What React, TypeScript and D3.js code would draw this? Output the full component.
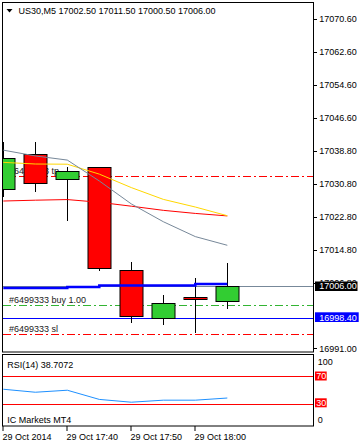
import React from "react";
import * as d3 from "d3";

// ---- data ----
const times = ["17:30", "17:35", "17:40", "17:45", "17:50", "17:55", "18:00", "18:05"];
const openP = [17029.4, 17038.0, 17031.85, 17034.75, 17009.85, 16998.25, 17003.3, 17002.5];
const highP = [17040.9, 17040.9, 17034.75, 17034.75, 17011.85, 17003.9, 17008.0, 17011.5];
const lowP = [17027.65, 17028.85, 17021.85, 17009.75, 16997.2, 16996.7, 16994.75, 17000.5];
const closeP = [17036.95, 17030.9, 17033.85, 17010.35, 16998.75, 17001.9, 17002.85, 17006.0];

const maFast = [17038.9, 17037.5, 17036.5, 17031.45, 17025.9, 17021.6, 17018.0, 17015.9];
const maMid = [17035.95, 17035.55, 17035.5, 17033.1, 17029.85, 17027.0, 17025.15, 17023.05];
const maSlow = [17026.6, 17026.8, 17026.95, 17026.3, 17025.35, 17024.35, 17023.6, 17023.0];
const blueLevel = [17005.58, 17005.58, 17005.82, 17006.18, 17006.18, 17006.18, 17006.54, 17006.54];

const rsi = [51.3, 47.0, 49.9, 36.7, 32.7, 35.6, 35.6, 38.7072];

const priceTicks = [17070.6, 17062.6, 17054.6, 17046.6, 17038.8, 17030.8, 17022.8, 17014.8, 17006.8, 16991.0];
const timeTickIdx = [0, 2, 4, 6];
const timeTickLabels = ["29 Oct 2014", "29 Oct 17:40", "29 Oct 17:50", "29 Oct 18:00"];

const tpPrice = 17032.6;
const openPrice = 17001.4;
const slPrice = 16994.4;
const bidPrice = 17006.0;
const askPrice = 16998.4;

const title = "US30,M5  17002.50 17011.50 17000.50 17006.00";
const rsiTitle = "RSI(14) 38.7072";
const broker = "IC Markets MT4";

const FONT = "'Liberation Sans', Arial, sans-serif";

export default function App() {
  const W = 361, H = 444;
  const x = d3.scaleLinear().domain([0, 7]).range([3.3, 227.3]);
  const y = d3.scaleLinear().domain([16991.0, 17070.6]).range([348.3, 19]);
  const r = d3.scaleLinear().domain([0, 100]).range([425.0, 355.3]);
  const cx = (i: number) => Math.round(x(i)) + 0.5;

  const line = (vals: number[]) =>
    d3.line<number>().x((_, i) => x(i)).y((v) => y(v))(vals) || "";
  const stepLine =
    d3.line<number>().x((_, i) => x(i)).y((v) => y(v)).curve(d3.curveStepAfter)(blueLevel) || "";
  const rsiPath = d3.line<number>().x((_, i) => x(i)).y((v) => r(v))(rsi) || "";

  const dash = "8,3,2,3";
  const hy = (p: number) => Math.round(y(p)) + 0.5;

  return (
    <svg width={W} height={H} style={{ position: "absolute", left: 0, top: 0, background: "#fff" }}
      fontFamily={FONT} fontSize={9}>
      <defs>
        <clipPath id="main">
          <rect x={3} y={3} width={310} height={349} />
        </clipPath>
        <clipPath id="rsiClip">
          <rect x={3} y={355} width={310} height={71} />
        </clipPath>
      </defs>
      <rect x={0} y={0} width={W} height={H} fill="#fff" />

      <g clipPath="url(#main)">
        {/* order lines */}
        <line x1={3} x2={313} y1={hy(tpPrice)} y2={hy(tpPrice)} stroke="#ff0000" strokeDasharray={dash} />
        <line x1={3} x2={313} y1={hy(openPrice)} y2={hy(openPrice)} stroke="#32b432" strokeDasharray={dash} />
        <line x1={3} x2={313} y1={hy(slPrice)} y2={hy(slPrice)} stroke="#ff0000" strokeDasharray={dash} />
        <line x1={3} x2={313} y1={hy(askPrice)} y2={hy(askPrice)} stroke="#0000ff" />
        <line x1={3} x2={313} y1={hy(bidPrice)} y2={hy(bidPrice)} stroke="#778899" />
        <text x={9} y={y(tpPrice) - 2} fill="#222">#6499333 tp</text>
        <text x={9} y={y(openPrice) - 2} fill="#222">#6499333 buy 1.00</text>
        <text x={9} y={y(slPrice) - 2} fill="#222">#6499333 sl</text>

        {/* candles */}
        {openP.map((o, i) => {
          const c = closeP[i];
          const bull = c >= o;
          const top = Math.round(y(Math.max(o, c))) + 0.5;
          const bot = Math.round(y(Math.min(o, c))) + 0.5;
          return (
            <g key={times[i]}>
              <line x1={cx(i)} x2={cx(i)} y1={Math.round(y(highP[i]))} y2={Math.round(y(lowP[i]))} stroke="#000" />
              <rect x={cx(i) - 11.5} y={top} width={23} height={Math.max(1, bot - top)}
                fill={bull ? "#32cd32" : "#ff0000"} stroke="#000" />
            </g>
          );
        })}

        {/* indicators */}
        <path d={line(maSlow)} fill="none" stroke="#ff0000" strokeWidth={1} />
        <path d={line(maMid)} fill="none" stroke="#ffd700" strokeWidth={1} />
        <path d={line(maFast)} fill="none" stroke="#778899" strokeWidth={1} />
        <path d={stepLine} fill="none" stroke="#0000ff" strokeWidth={2.5} />
      </g>

      {/* main frame */}
      <rect x={2.5} y={2.5} width={311} height={349.5} fill="none" stroke="#000" />

      {/* title */}
      <path d="M6.5,9 L12.5,9 L9.5,12.5 Z" fill="#000" />
      <text x={18.5} y={14} fill="#000">{title}</text>

      {/* price axis */}
      {priceTicks.map((p) => (
        <g key={p}>
          <line x1={313} x2={317} y1={Math.round(y(p)) + 0.5} y2={Math.round(y(p)) + 0.5} stroke="#000" />
          <text x={319.3} y={y(p) + 3.2} fill="#000">{p.toFixed(2)}</text>
        </g>
      ))}
      <rect x={315} y={281.5} width={42.5} height={9.5} fill="#000" />
      <text x={319.3} y={y(bidPrice) + 3.2} fill="#fff">{bidPrice.toFixed(2)}</text>
      <rect x={315} y={312.3} width={43.7} height={9.7} fill="#0000ff" />
      <text x={319.3} y={y(askPrice) + 3.2} fill="#fff">{askPrice.toFixed(2)}</text>

      {/* RSI panel */}
      <g clipPath="url(#rsiClip)">
        <line x1={3} x2={313} y1={Math.round(r(70)) + 0.5} y2={Math.round(r(70)) + 0.5} stroke="#ff0000" />
        <line x1={3} x2={313} y1={Math.round(r(30)) + 0.5} y2={Math.round(r(30)) + 0.5} stroke="#ff0000" />
        <path d={rsiPath} fill="none" stroke="#1e90ff" strokeWidth={1} />
      </g>
      <rect x={2.5} y={354.5} width={311} height={71.5} fill="none" stroke="#000" />
      <text x={7.3} y={367.5} fill="#000">{rsiTitle}</text>
      <text x={7.3} y={422.5} fill="#000">{broker}</text>

      <text x={317.7} y={365} fill="#000">100</text>
      <rect x={315} y={371.5} width={11.7} height={9} fill="#ff0000" />
      <text x={316.2} y={379.2} fill="#fff">70</text>
      <rect x={315} y={398.3} width={11.7} height={9} fill="#ff0000" />
      <text x={316.2} y={406} fill="#fff">30</text>
      <text x={317.7} y={422.6} fill="#000">0</text>

      {/* time axis */}
      {timeTickIdx.map((idx, k) => (
        <g key={idx}>
          <line x1={cx(idx) - 0.5} x2={cx(idx) - 0.5} y1={426} y2={431} stroke="#000" />
          <text x={cx(idx) - 1} y={439.5} fill="#000">{timeTickLabels[k]}</text>
        </g>
      ))}
    </svg>
  );
}
